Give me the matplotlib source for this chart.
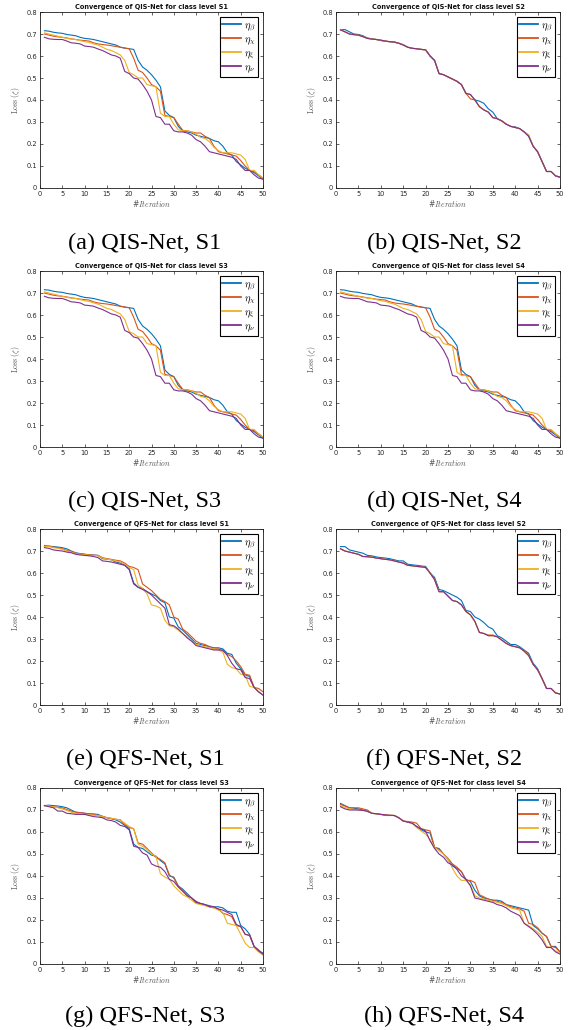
import numpy as np
import matplotlib
matplotlib.use("Agg")
import matplotlib.pyplot as plt

plt.rcParams['mathtext.fontset'] = 'cm'

iterations = list(range(1, 51))
series_labels = [r'$\eta_\beta$', r'$\eta_\chi$', r'$\eta_\xi$', r'$\eta_\nu$']

# ---------------- QIS-Net, S1 ----------------
qis_s1_beta = [.715, .713, .708, .705, .703, .698, .695, .692, .685, .680, .678, .675, .670, .665, .660, .655, .650, .640, .636, .633,
               .630, .580, .550, .535, .515, .490, .460, .350, .330, .320, .280, .260, .255, .250, .240, .235, .230, .225, .215, .210,
               .190, .160, .150, .120, .105, .090, .080, .070, .055, .040]
qis_s1_chi = [.700, .695, .690, .687, .685, .682, .678, .675, .672, .670, .668, .660, .655, .652, .650, .647, .643, .640, .636, .633,
              .590, .535, .525, .500, .470, .460, .440, .330, .325, .320, .290, .262, .260, .255, .250, .250, .235, .225, .190, .165,
              .160, .155, .150, .145, .125, .100, .080, .075, .060, .045]
qis_s1_xi = [.705, .700, .695, .690, .685, .680, .677, .675, .670, .665, .662, .655, .650, .640, .630, .625, .615, .605, .580, .525,
             .515, .500, .500, .470, .465, .460, .340, .325, .325, .290, .265, .260, .260, .255, .245, .230, .225, .210, .185, .170,
             .160, .160, .160, .155, .150, .130, .080, .080, .060, .045]
qis_s1_nu = [.685, .678, .676, .675, .675, .668, .660, .658, .655, .645, .643, .640, .632, .625, .615, .605, .600, .590, .530, .520,
             .500, .495, .470, .440, .400, .325, .320, .290, .290, .260, .255, .255, .250, .240, .220, .210, .190, .165, .160, .155,
             .150, .145, .140, .130, .100, .080, .080, .060, .045, .040]

# ---------------- QIS-Net, S2 ----------------
qis_s2_beta = [.720, .720, .710, .700, .698, .692, .682, .678, .675, .670, .667, .665, .662, .658, .652, .640, .635, .633, .630, .628,
               .600, .580, .520, .515, .505, .495, .485, .470, .430, .425, .400, .395, .385, .360, .345, .315, .305, .290, .280, .278,
               .270, .255, .240, .190, .165, .120, .075, .075, .055, .048]
qis_s2_chi = [.720, .710, .700, .697, .695, .688, .680, .677, .675, .672, .668, .665, .664, .658, .650, .640, .635, .633, .630, .628,
              .600, .580, .520, .515, .505, .495, .485, .470, .430, .405, .400, .370, .355, .345, .320, .315, .305, .290, .280, .275,
              .270, .255, .235, .190, .165, .120, .075, .075, .055, .050]
qis_s2_xi = [.720, .710, .700, .697, .695, .688, .680, .677, .675, .672, .668, .665, .664, .658, .652, .640, .635, .633, .630, .628,
             .600, .580, .520, .515, .505, .495, .485, .470, .430, .425, .400, .370, .355, .345, .320, .315, .305, .290, .280, .275,
             .270, .255, .240, .190, .165, .120, .075, .075, .055, .050]
qis_s2_nu = [.718, .710, .700, .697, .695, .688, .680, .677, .675, .672, .668, .665, .664, .658, .650, .640, .635, .633, .630, .628,
             .600, .580, .520, .515, .505, .495, .485, .470, .430, .425, .400, .370, .355, .345, .320, .315, .305, .290, .280, .275,
             .270, .255, .235, .190, .165, .120, .075, .075, .055, .050]

# ---------------- QIS-Net, S3 / S4 (same curves as S1 in the source) ----------------
qis_s3_beta, qis_s3_chi, qis_s3_xi, qis_s3_nu = qis_s1_beta, qis_s1_chi, qis_s1_xi, qis_s1_nu
qis_s4_beta, qis_s4_chi, qis_s4_xi, qis_s4_nu = qis_s1_beta, qis_s1_chi, qis_s1_xi, qis_s1_nu

# ---------------- QFS-Net, S1 ----------------
qfs_s1_beta = [.720, .722, .720, .718, .715, .710, .700, .692, .688, .685, .683, .682, .680, .665, .663, .660, .650, .645, .635, .620,
               .555, .535, .530, .515, .505, .495, .475, .465, .400, .395, .355, .340, .320, .300, .280, .275, .270, .265, .260, .260,
               .255, .235, .230, .190, .165, .135, .130, .080, .060, .045]
qfs_s1_chi = [.725, .722, .718, .715, .710, .703, .698, .690, .688, .685, .683, .681, .680, .670, .665, .662, .658, .655, .645, .630,
              .625, .615, .550, .535, .520, .500, .480, .470, .455, .400, .390, .345, .330, .310, .290, .280, .275, .265, .255, .255,
              .245, .230, .220, .200, .175, .140, .135, .080, .075, .060]
qfs_s1_xi = [.720, .720, .715, .712, .708, .700, .695, .688, .685, .683, .681, .680, .678, .668, .663, .660, .655, .650, .640, .625,
             .615, .545, .530, .505, .455, .450, .440, .385, .360, .355, .340, .325, .310, .290, .275, .270, .265, .260, .255, .250,
             .240, .185, .170, .165, .140, .135, .085, .080, .060, .045]
qfs_s1_nu = [.715, .712, .705, .702, .700, .695, .692, .685, .682, .680, .678, .675, .670, .655, .653, .650, .645, .640, .635, .615,
             .550, .535, .525, .515, .500, .480, .460, .440, .365, .360, .345, .325, .305, .290, .270, .265, .260, .255, .250, .250,
             .250, .225, .190, .165, .160, .125, .120, .080, .060, .045]

# ---------------- QFS-Net, S2 ----------------
qfs_s2_beta = [.720, .720, .705, .700, .695, .690, .680, .678, .673, .670, .668, .665, .660, .655, .655, .640, .637, .635, .632, .630,
               .600, .580, .525, .520, .510, .500, .490, .475, .430, .425, .400, .390, .375, .355, .345, .315, .305, .290, .275, .275,
               .265, .250, .235, .190, .165, .120, .075, .075, .055, .050]
qfs_s2_chi = [.710, .700, .695, .690, .685, .675, .674, .672, .668, .665, .662, .660, .655, .650, .645, .635, .633, .630, .628, .625,
              .600, .570, .515, .515, .495, .475, .470, .455, .425, .410, .380, .330, .325, .318, .318, .310, .295, .280, .270, .265,
              .260, .245, .225, .185, .160, .120, .075, .075, .055, .050]
qfs_s2_xi = [.710, .700, .695, .690, .685, .675, .674, .672, .668, .665, .662, .660, .655, .650, .645, .635, .633, .630, .628, .625,
             .600, .570, .515, .515, .495, .475, .470, .455, .425, .410, .380, .330, .325, .315, .315, .310, .295, .280, .270, .265,
             .260, .245, .225, .185, .160, .120, .075, .075, .055, .050]
qfs_s2_nu = [.710, .700, .695, .690, .685, .675, .674, .672, .668, .665, .662, .660, .655, .650, .645, .635, .633, .630, .628, .625,
             .600, .570, .515, .515, .495, .475, .470, .455, .425, .410, .380, .330, .325, .315, .315, .310, .295, .280, .270, .265,
             .260, .245, .225, .185, .160, .120, .075, .075, .055, .050]

# ---------------- QFS-Net, S3 ----------------
qfs_s3_beta = [.720, .722, .720, .718, .715, .710, .700, .690, .688, .685, .683, .682, .680, .670, .665, .660, .655, .645, .630, .615,
               .545, .530, .525, .510, .495, .490, .470, .455, .400, .395, .355, .340, .320, .300, .285, .275, .270, .265, .260, .260,
               .255, .240, .235, .235, .175, .160, .135, .080, .060, .050]
qfs_s3_chi = [.720, .718, .715, .712, .710, .702, .695, .690, .688, .685, .683, .680, .675, .672, .665, .662, .658, .655, .635, .620,
              .615, .550, .545, .525, .505, .485, .475, .460, .405, .390, .355, .335, .315, .300, .280, .275, .270, .260, .255, .250,
              .230, .225, .215, .175, .170, .135, .130, .080, .065, .045]
qfs_s3_xi = [.720, .718, .715, .710, .705, .698, .690, .685, .683, .680, .678, .676, .675, .670, .665, .662, .658, .655, .640, .625,
             .615, .545, .535, .520, .500, .490, .410, .395, .385, .355, .335, .315, .305, .290, .275, .270, .265, .260, .255, .245,
             .235, .185, .180, .175, .135, .095, .075, .075, .055, .040]
qfs_s3_nu = [.720, .715, .710, .695, .695, .685, .683, .680, .680, .680, .675, .670, .668, .665, .655, .652, .645, .630, .625, .610,
             .535, .530, .505, .495, .455, .445, .440, .420, .385, .375, .350, .330, .310, .300, .280, .275, .270, .260, .260, .250,
             .245, .235, .225, .180, .170, .135, .130, .080, .060, .045]

# ---------------- QFS-Net, S4 ----------------
qfs_s4_beta = [.730, .720, .710, .708, .705, .700, .693, .685, .683, .680, .675, .675, .675, .665, .650, .645, .640, .625, .610, .600,
               .595, .530, .525, .500, .475, .445, .435, .420, .385, .375, .335, .310, .300, .295, .290, .290, .285, .270, .265, .260,
               .255, .250, .245, .175, .160, .140, .125, .080, .080, .055]
qfs_s4_chi = [.725, .718, .710, .710, .710, .705, .700, .685, .683, .680, .678, .676, .675, .665, .650, .648, .645, .640, .615, .610,
              .605, .530, .520, .500, .480, .455, .440, .420, .380, .380, .370, .315, .305, .295, .290, .285, .280, .270, .260, .255,
              .250, .240, .185, .180, .165, .140, .125, .080, .075, .055]
qfs_s4_xi = [.720, .712, .705, .703, .700, .698, .695, .685, .683, .680, .678, .676, .675, .665, .650, .645, .640, .620, .605, .590,
             .565, .530, .515, .500, .475, .435, .400, .380, .380, .360, .310, .300, .295, .290, .285, .280, .275, .265, .255, .250,
             .245, .185, .175, .160, .145, .125, .080, .075, .060, .050]
qfs_s4_nu = [.715, .705, .700, .700, .700, .698, .695, .685, .683, .680, .678, .676, .675, .665, .650, .645, .640, .625, .615, .605,
             .560, .525, .500, .485, .460, .450, .430, .400, .385, .355, .300, .295, .290, .285, .280, .270, .265, .255, .240, .230,
             .220, .185, .170, .155, .135, .110, .075, .075, .055, .045]

panel_titles = ["Convergence of QIS-Net for class level S1", "Convergence of QIS-Net for class level S2",
                "Convergence of QIS-Net for class level S3", "Convergence of QIS-Net for class level S4",
                "Convergence of QFS-Net for class level S1", "Convergence of QFS-Net for class level S2",
                "Convergence of QFS-Net for class level S3", "Convergence of QFS-Net for class level S4"]
captions = ["(a) QIS-Net, S1", "(b) QIS-Net, S2", "(c) QIS-Net, S3", "(d) QIS-Net, S4",
            "(e) QFS-Net, S1", "(f) QFS-Net, S2", "(g) QFS-Net, S3", "(h) QFS-Net, S4"]
panel_data = [
    (qis_s1_beta, qis_s1_chi, qis_s1_xi, qis_s1_nu),
    (qis_s2_beta, qis_s2_chi, qis_s2_xi, qis_s2_nu),
    (qis_s3_beta, qis_s3_chi, qis_s3_xi, qis_s3_nu),
    (qis_s4_beta, qis_s4_chi, qis_s4_xi, qis_s4_nu),
    (qfs_s1_beta, qfs_s1_chi, qfs_s1_xi, qfs_s1_nu),
    (qfs_s2_beta, qfs_s2_chi, qfs_s2_xi, qfs_s2_nu),
    (qfs_s3_beta, qfs_s3_chi, qfs_s3_xi, qfs_s3_nu),
    (qfs_s4_beta, qfs_s4_chi, qfs_s4_xi, qfs_s4_nu),
]
x_ticks = [0, 5, 10, 15, 20, 25, 30, 35, 40, 45, 50]
y_ticks = [0, 0.1, 0.2, 0.3, 0.4, 0.5, 0.6, 0.7, 0.8]
y_tick_labels = ["0", "0.1", "0.2", "0.3", "0.4", "0.5", "0.6", "0.7", "0.8"]

colors = ['#0072BD', '#D95319', '#EDB120', '#7E2F8E']

W, H = 571, 1030
fig = plt.figure(figsize=(W / 100, H / 100), dpi=100)

col_left = [40, 336]
col_width = [223, 224]
row_top = [12, 271, 529, 788]
ax_h = 176
caption_y = [243, 501, 759, 1016]
caption_x = [145, 444]

axis_gray = '#262626'

for i in range(8):
    r, c = divmod(i, 2)
    ax = fig.add_axes([col_left[c] / W, 1 - (row_top[r] + ax_h) / H, col_width[c] / W, ax_h / H])
    for s, ys in enumerate(panel_data[i]):
        ax.plot(iterations, ys, color=colors[s], lw=0.8, label=series_labels[s])
    ax.set_xlim(0, 50)
    ax.set_ylim(0, 0.8)
    ax.set_xticks(x_ticks)
    ax.set_yticks(y_ticks)
    ax.set_yticklabels(y_tick_labels)
    ax.tick_params(direction='in', length=2.5, width=0.5, labelsize=4.8, colors=axis_gray,
                   top=True, right=True, pad=2)
    for sp in ax.spines.values():
        sp.set_linewidth(0.6)
        sp.set_color('#1a1a1a')
    ax.set_title(panel_titles[i], fontsize=4.7, fontweight='bold', pad=2, color='#111111')
    ax.set_xlabel(r'#$Iteration$', fontsize=5.5, color='#555555', labelpad=1)
    ax.set_ylabel(r'$\mathrm{Loss}\ (\zeta)$', fontsize=5.5, color='#555555', labelpad=3)
    leg = ax.legend(loc='upper right', fontsize=7.5, handlelength=1.8, handletextpad=0.3,
                    borderpad=0.25, labelspacing=0.12, fancybox=False, framealpha=1,
                    edgecolor='black', borderaxespad=0.45)
    leg.get_frame().set_linewidth(0.8)
    for lh in leg.get_lines():
        lh.set_linewidth(1.3)
    fig.text(caption_x[c] / W, 1 - caption_y[r] / H, captions[i], ha='center', va='center',
             fontsize=17.5, family='Liberation Serif')

fig.savefig('out.png', dpi=100)
